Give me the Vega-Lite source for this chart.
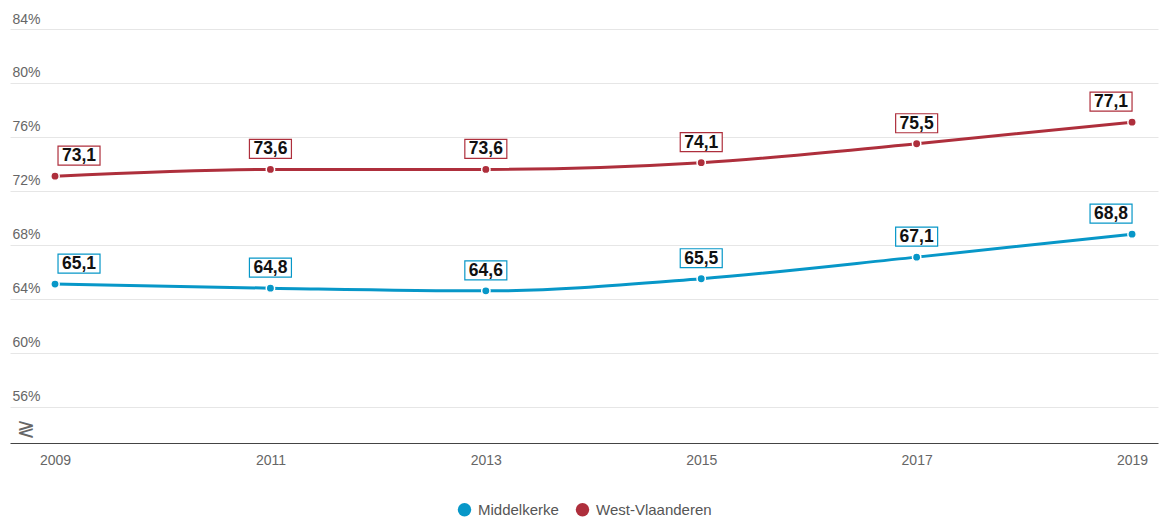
{
  "$schema": "https://vega.github.io/schema/vega-lite/v6.json",
  "width": 1148,
  "height": 414,
  "autosize": "none",
  "padding": {"left": 10, "top": 29, "right": 6, "bottom": 74},
  "config": {
    "locale": {"number": {"decimal": ",", "thousands": ".", "grouping": [3], "currency": ["€", ""]}},
    "view": {"stroke": null},
    "font": "Liberation Sans",
    "legend": {"layout": {"bottom": {"anchor": "middle"}}}
  },
  "datasets": {
    "rates": [
      {"year": 2009, "series": "Middelkerke", "value": 65.1},
      {"year": 2011, "series": "Middelkerke", "value": 64.8},
      {"year": 2013, "series": "Middelkerke", "value": 64.6},
      {"year": 2015, "series": "Middelkerke", "value": 65.5},
      {"year": 2017, "series": "Middelkerke", "value": 67.1},
      {"year": 2019, "series": "Middelkerke", "value": 68.8},
      {"year": 2009, "series": "West-Vlaanderen", "value": 73.1},
      {"year": 2011, "series": "West-Vlaanderen", "value": 73.6},
      {"year": 2013, "series": "West-Vlaanderen", "value": 73.6},
      {"year": 2015, "series": "West-Vlaanderen", "value": 74.1},
      {"year": 2017, "series": "West-Vlaanderen", "value": 75.5},
      {"year": 2019, "series": "West-Vlaanderen", "value": 77.1}
    ],
    "axisbreak": [{"symbol": "≷"}]
  },
  "layer": [
    {
      "data": {"name": "rates"},
      "encoding": {
        "x": {
          "field": "year", "type": "quantitative",
          "scale": {"domain": [2008.582, 2019.241], "nice": false, "zero": false},
          "axis": {
            "title": null, "values": [2009, 2011, 2013, 2015, 2017, 2019], "format": "d",
            "grid": false, "ticks": false, "tickSize": 0, "labelPadding": 10,
            "labelFontSize": 14, "labelColor": "#666666", "labelFont": "Liberation Sans",
            "domainColor": "#444444", "domainWidth": 1.2
          }
        },
        "y": {
          "field": "value", "type": "quantitative",
          "scale": {"domain": [53.33, 84], "nice": false, "zero": false},
          "axis": {
            "title": null, "values": [56, 60, 64, 68, 72, 76, 80, 84],
            "labelExpr": "datum.value + '%'",
            "domain": false, "ticks": false, "tickSize": 0, "labelPadding": -2,
            "labelAlign": "left", "labelBaseline": "bottom", "labelOffset": -3,
            "labelFontSize": 14, "labelColor": "#666666", "labelFont": "Liberation Sans",
            "gridColor": "#e6e6e6", "gridWidth": 1
          }
        },
        "color": {
          "field": "series", "type": "nominal",
          "scale": {"domain": ["Middelkerke", "West-Vlaanderen"], "range": ["#0797c8", "#ae2f3c"]},
          "legend": {
            "title": null, "orient": "bottom", "direction": "horizontal", "offset": 35,
            "symbolType": "circle", "symbolSize": 180, "symbolStrokeWidth": 0,
            "labelFontSize": 15, "labelColor": "#555555", "labelFont": "Liberation Sans",
            "columnPadding": 16, "labelOffset": 6
          }
        }
      },
      "layer": [
        {"mark": {"type": "line", "interpolate": "monotone", "strokeWidth": 3}},
        {"mark": {"type": "point", "filled": true, "size": 70, "opacity": 1, "stroke": "white", "strokeWidth": 1.5}},
        {
          "transform": [{"filter": "datum.year > 2009 && datum.year < 2019"}],
          "layer": [
            {
              "mark": {"type": "point", "shape": "M-1,-0.452L1,-0.452L1,0.452L-1,0.452Z", "size": 1764, "filled": false, "fill": "white", "fillOpacity": 1, "opacity": 1, "strokeWidth": 1.2},
              "encoding": {"yOffset": {"value": -20.5}}
            },
            {
              "mark": {"type": "text", "fontSize": 17.5, "fontWeight": "bold", "baseline": "middle", "font": "Liberation Sans"},
              "encoding": {"text": {"field": "value", "type": "quantitative", "format": ".1f"}, "color": {"value": "#111111"}, "yOffset": {"value": -20}}
            }
          ]
        },
        {
          "transform": [{"filter": "datum.year == 2009"}],
          "layer": [
            {
              "mark": {"type": "point", "shape": "M-1,-0.452L1,-0.452L1,0.452L-1,0.452Z", "size": 1764, "filled": false, "fill": "white", "fillOpacity": 1, "opacity": 1, "strokeWidth": 1.2},
              "encoding": {"yOffset": {"value": -20.5}, "xOffset": {"value": 24}}
            },
            {
              "mark": {"type": "text", "fontSize": 17.5, "fontWeight": "bold", "baseline": "middle", "font": "Liberation Sans", "dx": 24},
              "encoding": {"text": {"field": "value", "type": "quantitative", "format": ".1f"}, "color": {"value": "#111111"}, "yOffset": {"value": -20}}
            }
          ]
        },
        {
          "transform": [{"filter": "datum.year == 2019"}],
          "layer": [
            {
              "mark": {"type": "point", "shape": "M-1,-0.452L1,-0.452L1,0.452L-1,0.452Z", "size": 1764, "filled": false, "fill": "white", "fillOpacity": 1, "opacity": 1, "strokeWidth": 1.2},
              "encoding": {"yOffset": {"value": -20.5}, "xOffset": {"value": -21}}
            },
            {
              "mark": {"type": "text", "fontSize": 17.5, "fontWeight": "bold", "baseline": "middle", "font": "Liberation Sans", "dx": -21},
              "encoding": {"text": {"field": "value", "type": "quantitative", "format": ".1f"}, "color": {"value": "#111111"}, "yOffset": {"value": -20}}
            }
          ]
        }
      ]
    },
    {
      "data": {"name": "axisbreak"},
      "mark": {"type": "text", "fontSize": 22, "color": "#666666", "font": "DejaVu Sans", "fontWeight": "normal", "baseline": "middle", "align": "center"},
      "encoding": {
        "x": {"datum": 2008.73, "type": "quantitative"},
        "y": {"datum": 54.4, "type": "quantitative"},
        "text": {"field": "symbol", "type": "nominal"}
      }
    }
  ]
}
